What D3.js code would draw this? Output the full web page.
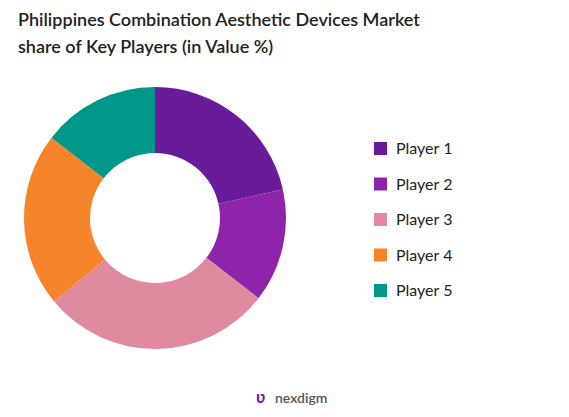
<!DOCTYPE html><html><head><meta charset="utf-8"><script src="https://cdn.jsdelivr.net/npm/d3@7"></script>
<style>body{margin:0;background:#fff}</style></head><body><svg id="c" width="569" height="417"></svg>
<script>
const categories=["Player 1","Player 2","Player 3","Player 4","Player 5"];
const values=[21.5,14,28.5,21.5,14.5];
const colors=["#6a1b9a","#8e24aa","#e08aa0","#f5842a","#009688"];
const svg=d3.select("#c");
svg.append("text").attr("x",18).attr("y",26).attr("font-family","Lato, sans-serif").attr("font-size",18).attr("font-weight",600).attr("fill","#222").text("Philippines Combination Aesthetic Devices Market");
svg.append("text").attr("x",18).attr("y",53).attr("font-family","Lato, sans-serif").attr("font-size",18).attr("font-weight",600).attr("fill","#222").text("share of Key Players (in Value %)");
const pie=d3.pie().sort(null).value(d=>d)(values);
const arc=d3.arc().innerRadius(65).outerRadius(131);
svg.append("g").attr("transform","translate(155,218)").selectAll("path").data(pie).join("path").attr("d",arc).attr("fill",(d,i)=>colors[i]);
const lg=svg.append("g");
categories.forEach((c,i)=>{const y=148+i*35.5;
lg.append("rect").attr("x",374).attr("y",y-6).attr("width",13).attr("height",13).attr("fill",colors[i]);
lg.append("text").attr("x",396).attr("y",y+6).attr("font-family","Lato, sans-serif").attr("font-size",16).attr("fill","#222").text(c);});
svg.append("text").attr("x",256).attr("y",403).attr("font-family","Lato, sans-serif").attr("font-size",17).attr("font-weight",700).attr("fill","#6a1b9a").text("ʋ");
svg.append("text").attr("x",275).attr("y",403).attr("font-family","Lato, sans-serif").attr("font-size",14).attr("font-weight",600).attr("fill","#555").text("nexdigm");
</script></body></html>
